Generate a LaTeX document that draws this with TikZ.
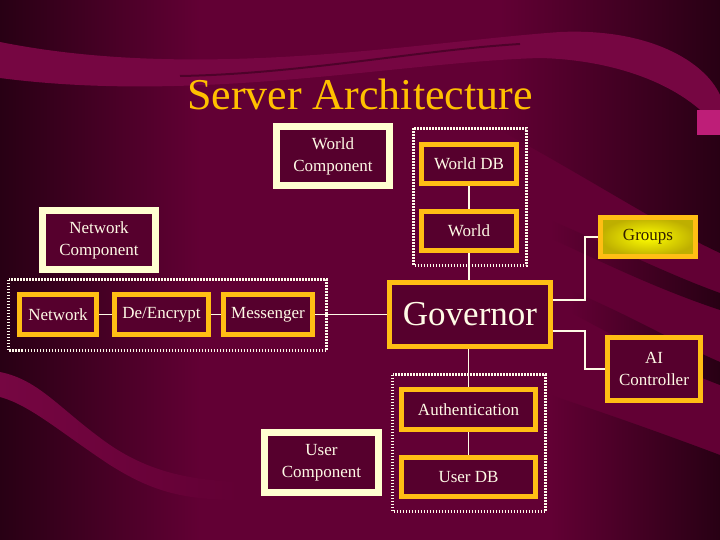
\documentclass[tikz,border=0pt]{standalone}
\usepackage{fontspec}
\setmainfont{Liberation Serif}
\usetikzlibrary{calc}
\definecolor{bgmain}{RGB}{98,0,52}
\definecolor{bgdark}{RGB}{40,0,20}
\definecolor{bgmid}{RGB}{62,0,32}
\definecolor{bglight}{RGB}{118,6,66}
\definecolor{boxfill}{RGB}{86,0,45}
\definecolor{cream}{RGB}{255,255,208}
\definecolor{gold}{RGB}{255,190,20}
\definecolor{txt}{RGB}{255,250,230}
\definecolor{dotc}{RGB}{255,250,235}
\definecolor{titlec}{RGB}{255,192,0}
\definecolor{grpin}{RGB}{255,255,0}
\definecolor{grpout}{RGB}{190,175,0}
\definecolor{grptxt}{RGB}{50,30,0}
\definecolor{pinkblk}{RGB}{190,30,120}
\pgfdeclarelayer{bg}\pgfdeclarelayer{lines}\pgfsetlayers{bg,lines,main}
\begin{document}
\begin{tikzpicture}[x=1pt,y=-1pt,
 cbox/.style={draw=cream,line width=7pt,fill=boxfill,text=txt,inner sep=0pt,align=center,font=\fontsize{17}{22}\selectfont},
 gbox/.style={draw=gold,line width=5pt,fill=boxfill,text=txt,inner sep=0pt,align=center,font=\fontsize{17}{22}\selectfont},
 grp/.style={draw=dotc,line width=3pt,dash pattern=on 1.6pt off 1.4pt},
 conn/.style={draw=txt,line width=1.2pt}]
\useasboundingbox (0,0) rectangle (720,540);
\begin{pgfonlayer}{bg}
\fill[bgmain] (0,0) rectangle (720,540);
% left darkening
\shade[left color=bgdark, right color=bgmain] (0,0) rectangle (200,540);
% right darkening above first stripe
\shade[left color=bgmain, right color=bgdark] (500,0) -- (720,0) -- (720,253) .. controls (660,225) and (600,185) .. (500,130) -- cycle;
% dark stripes right
\shade[left color=bgmain, right color=bgdark] (550,220) .. controls (620,250) and (670,275) .. (720,293) -- (720,310) .. controls (660,290) and (610,266) .. (550,238) -- cycle;
\shade[left color=bgmain, right color=bgdark] (570,290) .. controls (640,320) and (680,345) .. (720,362) -- (720,385) .. controls (680,370) and (630,345) .. (570,312) -- cycle;
\shade[left color=bgmain, right color=bgdark] (550,395) .. controls (620,418) and (680,440) .. (720,455) -- (720,540) -- (550,540) -- cycle;
% top swoosh
\fill[bglight] (0,42) .. controls (200,82) and (420,42) .. (560,32) .. controls (650,28) and (705,62) .. (720,95) -- (720,132) .. controls (690,88) and (620,60) .. (540,58) .. controls (400,62) and (200,104) .. (0,78) -- cycle;
\draw[bgdark,line width=2pt,opacity=0.5] (180,76) .. controls (300,74) and (420,50) .. (520,44);
\fill[pinkblk] (697,110) rectangle (720,135);
% lower-left band
\shade[left color=bglight, right color=bgmain] (0,372) .. controls (40,380) and (60,410) .. (110,445) .. controls (150,472) and (190,480) .. (240,482) -- (240,500) .. controls (180,500) and (150,490) .. (110,465) .. controls (60,432) and (30,405) .. (0,397) -- cycle;
\end{pgfonlayer}

\node[text=titlec,font=\fontsize{44}{50}\selectfont,anchor=base] (title) at (360,110) {Server Architecture};

% groups (dotted)
\draw[grp] (413.5,128.5) rectangle (526.5,265.5);
\draw[grp] (8.5,279.5) rectangle (326.5,350.5);
\draw[grp] (392.5,374.5) rectangle (545.5,511.5);

% components
\node[cbox,minimum width=113pt,minimum height=59pt] (wcomp) at (333,156) {World\\Component};
\node[cbox,minimum width=113pt,minimum height=59pt] (ncomp) at (99,240) {Network\\Component};
\node[cbox,minimum width=114pt,minimum height=60pt] (ucomp) at (321.5,462.5) {User\\Component};

% gold boxes
\node[gbox,minimum width=95pt,minimum height=39pt] (wdb) at (469,164) {World DB};
\node[gbox,minimum width=95pt,minimum height=39pt] (world) at (469,231) {World};
\node[gbox,minimum width=77pt,minimum height=40pt] (net) at (58,314.5) {Network};
\node[gbox,minimum width=94pt,minimum height=40pt] (dec) at (161.5,314.5) {De/Encrypt};
\node[gbox,minimum width=89pt,minimum height=40pt] (mess) at (268,314.5) {Messenger};
\node[gbox,minimum width=161pt,minimum height=64pt,font=\fontsize{35}{40}\selectfont] (gov) at (470,314.5) {Governor};
\node[gbox,minimum width=95pt,minimum height=39pt,inner color=grpin,outer color=grpout,text=grptxt] (groups) at (648,237) {Groups};
\node[gbox,minimum width=93pt,minimum height=63pt] (ai) at (654,369) {AI\\Controller};
\node[gbox,minimum width=134pt,minimum height=40pt] (auth) at (468.5,409.5) {Authentication};
\node[gbox,minimum width=134pt,minimum height=39pt] (udb) at (468.5,477) {User DB};

\begin{pgfonlayer}{lines}
\draw[conn] (wdb) -- (world);
\draw[conn] (world.south) -- (world.south |- gov.north);
\draw[conn] (net) -- (dec);
\draw[conn] (dec) -- (mess);
\draw[conn] (mess) -- (gov);
\draw[conn] (gov.south -| auth.north) -- (auth.north);
\draw[conn] (auth) -- (udb);
\draw[conn] ([yshift=14.5pt]gov.east) -- ++(32,0) |- (groups.west);
\draw[conn] ([yshift=-16.5pt]gov.east) -- ++(32,0) |- (ai.west);
\end{pgfonlayer}
\end{tikzpicture}
\end{document}
